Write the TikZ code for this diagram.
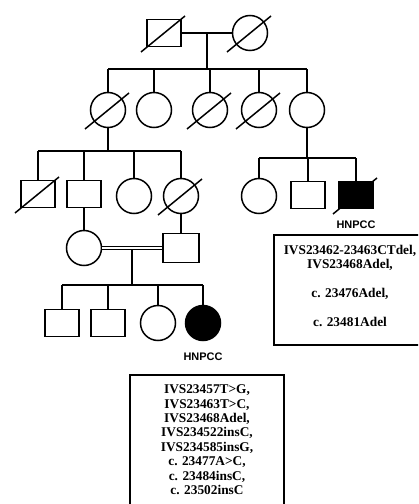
\documentclass[tikz,border=0pt]{standalone}
\usepackage{fontspec}
\setmainfont{Liberation Serif}
\newfontfamily\lblfont{Liberation Sans}

\tikzset{
	male/.style={draw, rectangle, minimum width=34bp, minimum height=27bp, inner sep=0pt},
	female/.style={draw, circle, minimum size=35bp, inner sep=0pt},
	affected/.style={fill=black},
	hnpcc/.style={label={[font=\lblfont\bfseries\fontsize{11}{13}\selectfont, inner sep=0pt, label distance=10.5bp]below:HNPCC}},
	mutbox/.style={draw, rectangle, inner sep=0pt},
	muttext/.style={align=center, inner sep=0pt, anchor=north, font=\bfseries\fontsize{13.4}{14.5}\selectfont},
}

\begin{document}
\begin{tikzpicture}[x=1bp, y=-1bp, line width=1.5bp]
				\clip (0,0) rectangle (418,504);
				% generation I
				\node[male] (I1) at (164, 33) {};
				\node[female] (I2) at (250, 33) {};
				\coordinate (m1) at (207, 33);
				\coordinate (s1) at (207, 69);
				% generation II
				\node[female] (II1) at (108, 110) {};
				\node[female] (II2) at (154, 110) {};
				\node[female] (II3) at (210, 110) {};
				\node[female] (II4) at (259, 110) {};
				\node[female] (II5) at (307, 110) {};
				\coordinate (s2) at (108, 151);
				\coordinate (s3) at (307, 158);
				% generation III
				\node[male] (III1) at (38, 194) {};
				\node[male] (III2) at (84, 194) {};
				\node[female] (III3) at (134, 196) {};
				\node[female] (III4) at (181, 196) {};
				\node[female] (III5) at (259, 196) {};
				\node[male] (III6) at (308, 195) {};
				\node[male, affected, hnpcc] (III7) at (356, 195) {};
				% generation IV
				\node[female] (IV1) at (84, 248) {};
				\node[male, minimum width=36bp, minimum height=29bp] (IV2) at (181, 248) {};
				\coordinate (m2) at (132, 249);
				\coordinate (s4) at (132, 285);
				% generation V
				\node[male] (V1) at (62, 323) {};
				\node[male] (V2) at (108, 323) {};
				\node[female] (V3) at (158, 323) {};
				\node[female, affected, hnpcc] (V4) at (203, 323) {};
				% mutations
				\node[mutbox, minimum width=152bp, minimum height=110bp] (MR) at (350, 290) {};
				\node[muttext] (TR) at (350, 244) {IVS23462-23463CTdel,\\IVS23468Adel,\\[14.5bp]c. 23476Adel,\\[14.5bp]c. 23481Adel};
				\node[mutbox, minimum width=154bp, minimum height=150bp, anchor=north] (MB) at (207, 374) {};
				\node[muttext] (TB) at (207, 384) {IVS23457T>G,\\IVS23463T>C,\\IVS23468Adel,\\IVS234522insC,\\IVS234585insG,\\c. 23477A>C,\\c. 23484insC,\\c. 23502insC};
				% deceased
				\foreach \n in {I1, I2, II1, II3, II4, III1, III4, III7}
					\draw ([shift={(-23,19)}]\n.center) -- ([shift={(21,-17)}]\n.center);
				% lines
				\draw (I1) -- (I2);
				\draw (m1) -- (s1);
				\draw (II1 |- s1) -- (II5 |- s1);
				\foreach \n in {II1, II2, II3, II4, II5}
					\draw (\n) -- (\n |- s1);
				\draw (II1) -- (s2);
				\draw (III1 |- s2) -- (III4 |- s2);
				\foreach \n in {III1, III2, III3, III4}
					\draw (\n) -- (\n |- s2);
				\draw (II5) -- (s3);
				\draw (III5 |- s3) -- (III7 |- s3);
				\foreach \n in {III5, III6, III7}
					\draw (\n) -- (\n |- s3);
				\draw (III2) -- (IV1);
				\draw (III4) -- (IV2);
				\draw[double distance=1.6bp, line width=0.8bp] (IV1) -- (IV2);
				\draw (m2) -- (s4);
				\draw (V1 |- s4) -- (V4 |- s4);
				\foreach \n in {V1, V2, V3, V4}
					\draw (\n) -- (\n |- s4);
\end{tikzpicture}
\end{document}
